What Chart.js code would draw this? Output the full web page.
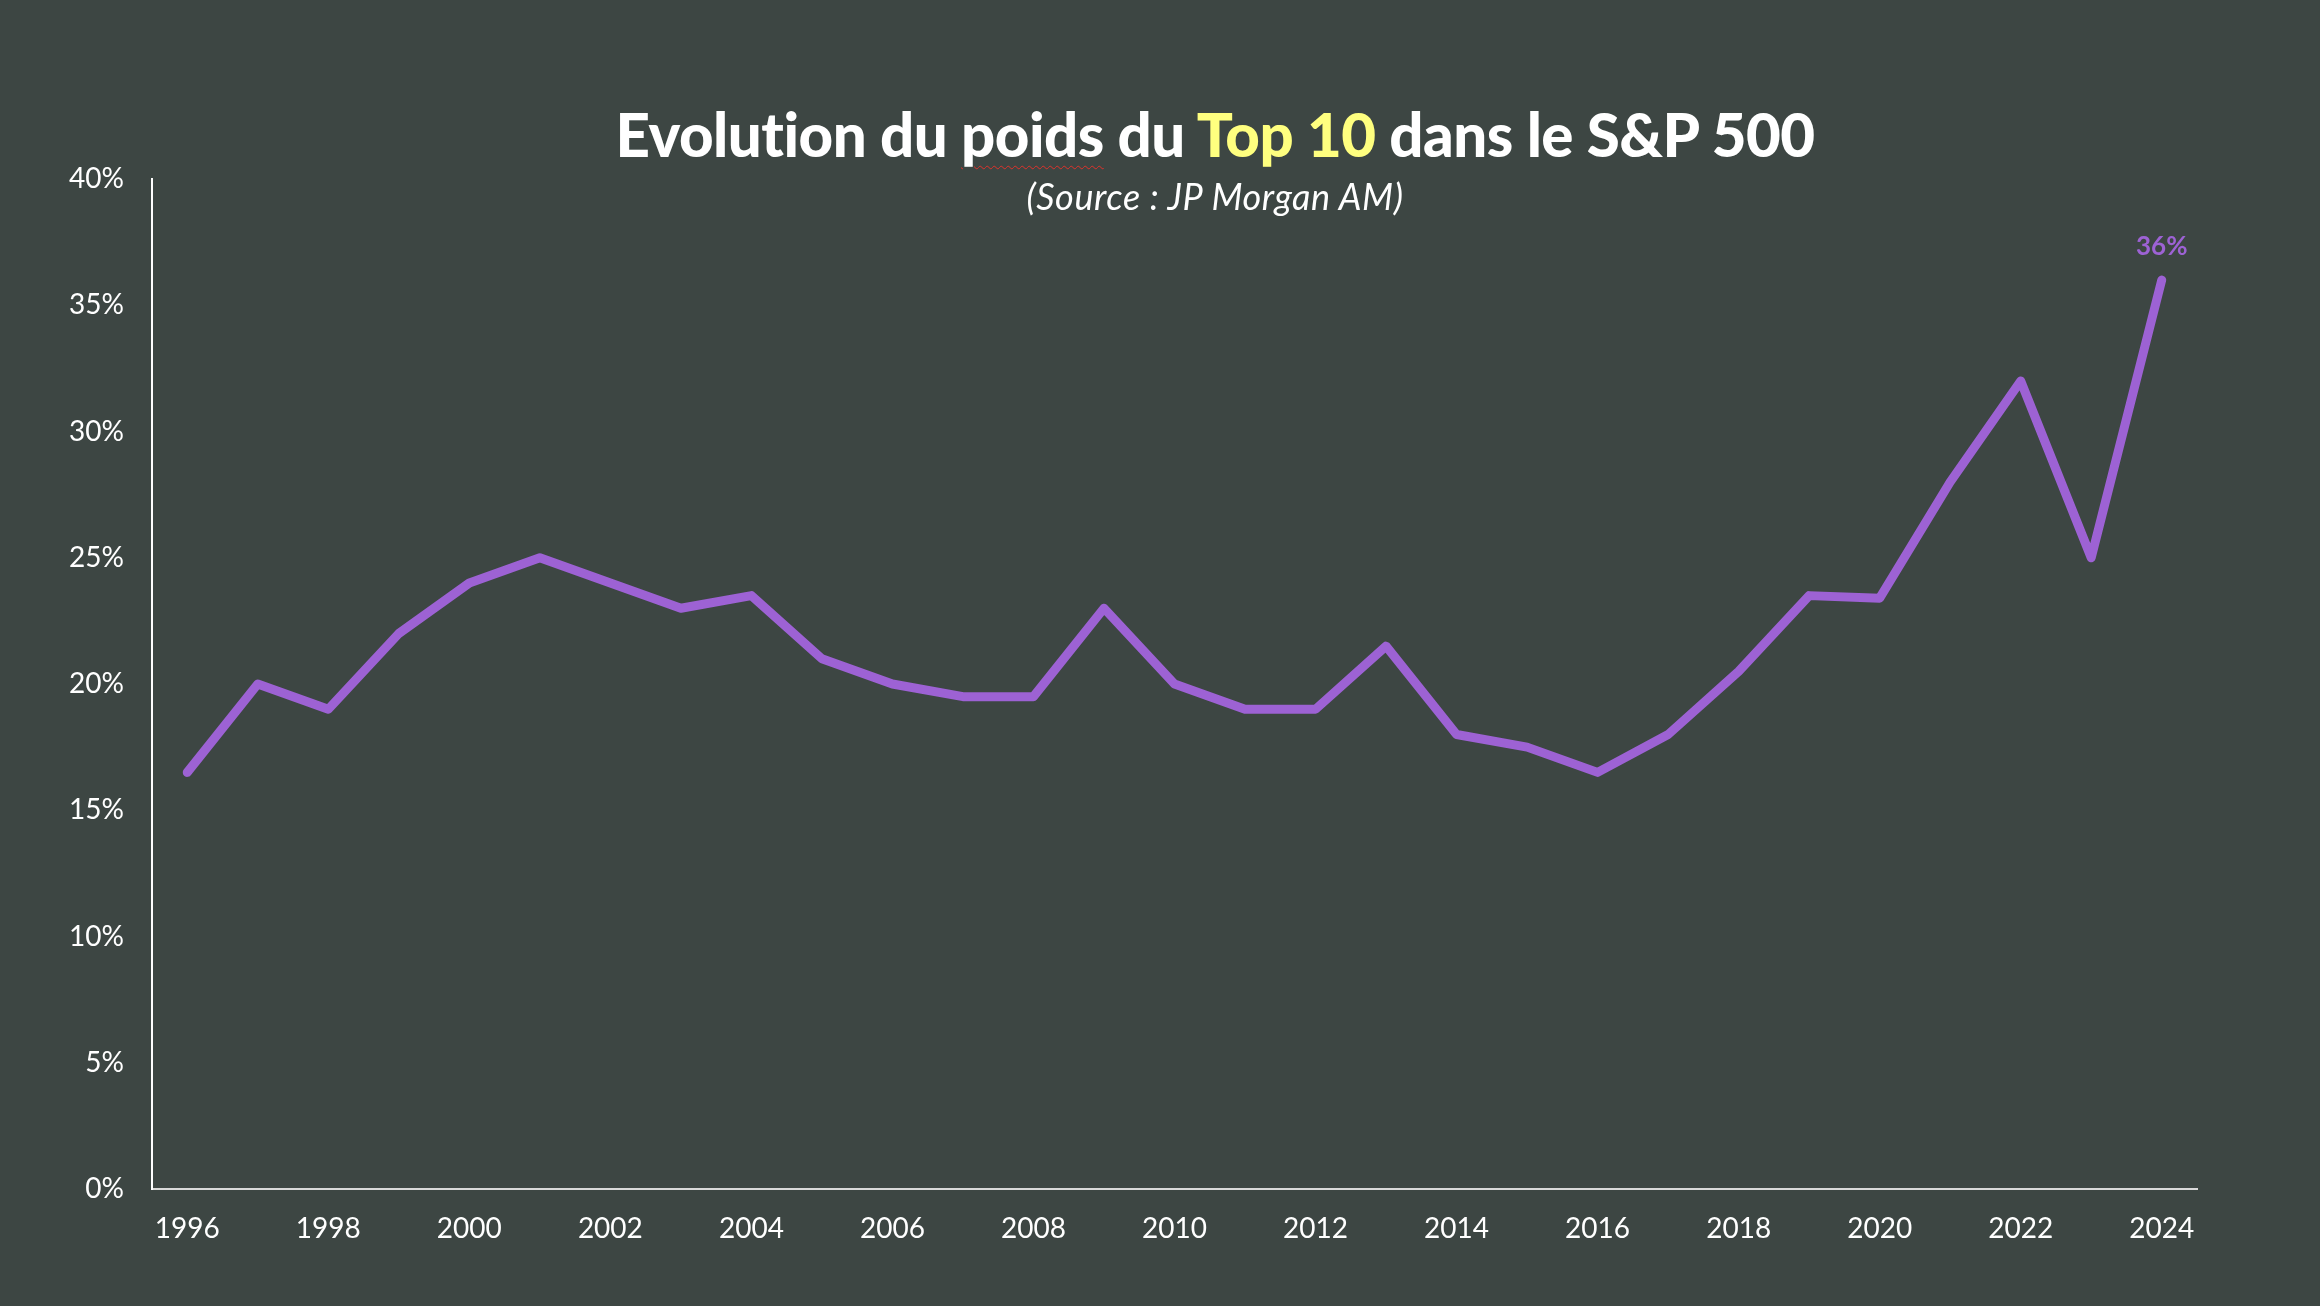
<!DOCTYPE html>
<html>
<head>
<meta charset="utf-8">
<script src="https://cdn.jsdelivr.net/npm/chart.js@4.4.1/dist/chart.umd.min.js"></script>
<style>
  html, body { margin: 0; padding: 0; background: #3d4643; width: 2320px; height: 1306px; overflow: hidden; }
  #wrap { position: relative; width: 2320px; height: 1306px; }
  canvas { position: absolute; left: 0; top: 0; }
  .title { position: absolute; left: 1215px; top: 104px; transform: translateX(-50%); white-space: nowrap;
           font-family: Lato, "Noto Sans", sans-serif; font-weight: 900; font-size: 60px; color: #ffffff; letter-spacing: -0.5px; line-height: 1; }
  .title .hl { color: #ffff7f; }
  .title .sp { text-decoration: underline wavy #e0322b; text-decoration-thickness: 1px; text-underline-offset: 8px; }
  .sub { position: absolute; left: 1215px; top: 178px; transform: translateX(-50%); white-space: nowrap;
         font-family: Lato, "Noto Sans", sans-serif; font-style: italic; font-size: 36px; color: #ffffff; line-height: 1; letter-spacing: 0.6px; }
</style>
</head>
<body>
<div id="wrap">
  <canvas id="c" width="2320" height="1306"></canvas>
  <div class="title">Evolution du <span class="sp">poids</span> du <span class="hl">Top 10</span> dans le S&amp;P 500</div>
  <div class="sub">(Source : JP Morgan AM)</div>
</div>
<script>
const years = ['1996','1997','1998','1999','2000','2001','2002','2003','2004','2005','2006','2007','2008','2009','2010','2011','2012','2013','2014','2015','2016','2017','2018','2019','2020','2021','2022','2023','2024'];
const top10Weight = [16.5, 20, 19, 22, 24, 25, 24, 23, 23.5, 21, 20, 19.5, 19.5, 23, 20, 19, 19, 21.5, 18, 17.5, 16.5, 18, 20.5, 23.5, 23.4, 28, 32, 25, 36];
const yTicks = [0, 5, 10, 15, 20, 25, 30, 35, 40];
const labelIndex = [28];

const purple = '#9d62d4';
const tickFont = { family: 'Lato, "Noto Sans", sans-serif', size: 28 };

const lastLabel = {
  id: 'lastLabel',
  afterDatasetsDraw(chart) {
    const ctx = chart.ctx;
    const meta = chart.getDatasetMeta(0);
    ctx.save();
    ctx.fillStyle = purple;
    ctx.font = 'bold 26px Lato, "Noto Sans", sans-serif';
    ctx.textAlign = 'center';
    ctx.textBaseline = 'middle';
    labelIndex.forEach(i => {
      const p = meta.data[i];
      ctx.fillText(Math.round(top10Weight[i]) + '%', p.x, p.y - 33);
    });
    ctx.restore();
  }
};

new Chart(document.getElementById('c'), {
  type: 'line',
  data: {
    labels: years,
    datasets: [{
      data: top10Weight,
      borderColor: purple,
      borderWidth: 9,
      borderCapStyle: 'round',
      borderJoinStyle: 'round',
      pointRadius: 0,
      pointHoverRadius: 0,
      tension: 0,
      fill: false
    }]
  },
  options: {
    responsive: false,
    animation: false,
    events: [],
    layout: { padding: { top: 179, right: 123, bottom: 0, left: 0 } },
    plugins: { legend: { display: false }, tooltip: { enabled: false }, title: { display: false } },
    scales: {
      x: {
        offset: true,
        grid: { display: false, drawTicks: false },
        border: { display: true, color: '#d9d9d9', width: 2 },
        ticks: {
          color: '#ffffff', font: tickFont, padding: 23, autoSkip: false, maxRotation: 0,
          callback: (v, i) => (i % 2 === 0 ? years[i] : '')
        },
        afterFit: s => { s.height = 117; }
      },
      y: {
        min: 0, max: 40,
        afterBuildTicks: s => { s.ticks = yTicks.map(v => ({ value: v })); },
        grid: { display: false, drawTicks: false },
        border: { display: true, color: '#ffffff', width: 2 },
        ticks: { color: '#ffffff', font: tickFont, padding: 28, callback: v => v + '%' },
        afterFit: s => { s.width = 152; }
      }
    }
  },
  plugins: [lastLabel]
});
</script>
</body>
</html>
